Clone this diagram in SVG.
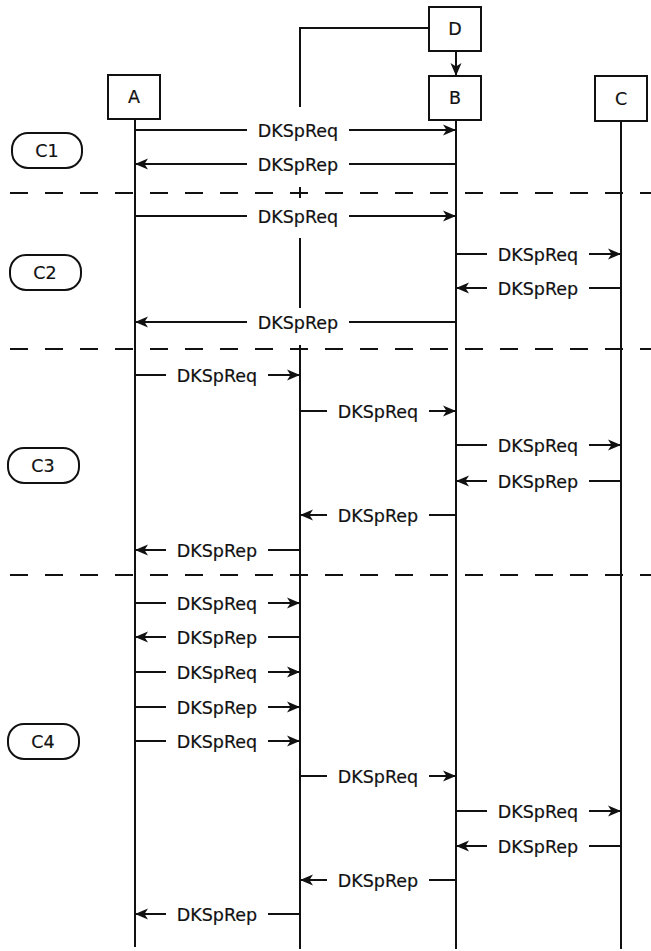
<svg xmlns="http://www.w3.org/2000/svg" width="651" height="951" viewBox="0 0 651 951">
<style>
.box{fill:#fff;stroke:#111;stroke-width:2}
.lbl{fill:#fff;stroke:#111;stroke-width:2}
.ln{stroke:#111;stroke-width:2;fill:none}
.dash{stroke:#111;stroke-width:2;stroke-dasharray:18 17;fill:none}
.t{font-family:"DejaVu Sans",Verdana,sans-serif;font-size:17.5px;fill:#111;text-anchor:middle;stroke:#111;stroke-width:0.2}
</style>
<defs>
<marker id="ah" markerUnits="userSpaceOnUse" markerWidth="14" markerHeight="14" viewBox="0 0 14 14" refX="13" refY="7" orient="auto">
<path d="M0,1.5 L13,7 L0,12.5 L3.5,7 z" fill="#111"/>
</marker>
</defs>
<rect width="651" height="951" fill="#fff"/>
<g id="dividers">
<line class="dash" x1="10" y1="193" x2="651" y2="193"/>
<line class="dash" x1="10" y1="349" x2="651" y2="349"/>
<line class="dash" x1="10" y1="575" x2="651" y2="575"/>
</g>
<g id="lifelines">
<line class="ln" x1="135" y1="119" x2="135" y2="947"/>
<line class="ln" x1="456" y1="120" x2="456" y2="949"/>
<line class="ln" x1="621" y1="121" x2="621" y2="949"/>
<path class="ln" d="M429,28 H300 V107"/>
<line class="ln" x1="300" y1="187" x2="300" y2="198"/>
<line class="ln" x1="300" y1="238" x2="300" y2="308"/>
<line class="ln" x1="300" y1="345" x2="300" y2="949"/>
</g>
<g id="node-D"><rect class="box" x="429" y="7" width="52" height="44"/><text class="t" x="455" y="35">D</text></g>
<g id="node-A"><rect class="box" x="108" y="75" width="52" height="44"/><text class="t" x="134" y="103">A</text></g>
<g id="node-B"><rect class="box" x="429" y="76" width="52" height="44"/><text class="t" x="455" y="104">B</text></g>
<g id="node-C"><rect class="box" x="595" y="76" width="52" height="45"/><text class="t" x="621" y="105">C</text></g>
<g id="label-C1"><rect class="lbl" x="12" y="133" width="70" height="35" rx="16"/><text class="t" x="47" y="157">C1</text></g>
<g id="label-C2"><rect class="lbl" x="10" y="255" width="71" height="35" rx="16"/><text class="t" x="45" y="279">C2</text></g>
<g id="label-C3"><rect class="lbl" x="8" y="448" width="71" height="35" rx="16"/><text class="t" x="43" y="472">C3</text></g>
<g id="label-C4"><rect class="lbl" x="8" y="724" width="71" height="35" rx="16"/><text class="t" x="43" y="748">C4</text></g>
<g id="connectors">
<line class="ln" x1="456" y1="51" x2="456" y2="76" marker-end="url(#ah)"/>
<line class="ln" x1="135" y1="130" x2="247" y2="130"/><line class="ln" x1="349" y1="130" x2="456" y2="130" marker-end="url(#ah)"/>
<line class="ln" x1="456" y1="164" x2="349" y2="164"/><line class="ln" x1="247" y1="164" x2="135" y2="164" marker-end="url(#ah)"/>
<line class="ln" x1="135" y1="216" x2="247" y2="216"/><line class="ln" x1="349" y1="216" x2="456" y2="216" marker-end="url(#ah)"/>
<line class="ln" x1="456" y1="254" x2="487" y2="254"/><line class="ln" x1="589" y1="254" x2="621" y2="254" marker-end="url(#ah)"/>
<line class="ln" x1="621" y1="288" x2="589" y2="288"/><line class="ln" x1="487" y1="288" x2="456" y2="288" marker-end="url(#ah)"/>
<line class="ln" x1="456" y1="322" x2="349" y2="322"/><line class="ln" x1="247" y1="322" x2="135" y2="322" marker-end="url(#ah)"/>
<line class="ln" x1="135" y1="375" x2="166" y2="375"/><line class="ln" x1="268" y1="375" x2="300" y2="375" marker-end="url(#ah)"/>
<line class="ln" x1="300" y1="411" x2="327" y2="411"/><line class="ln" x1="429" y1="411" x2="456" y2="411" marker-end="url(#ah)"/>
<line class="ln" x1="456" y1="445" x2="487" y2="445"/><line class="ln" x1="589" y1="445" x2="621" y2="445" marker-end="url(#ah)"/>
<line class="ln" x1="621" y1="481" x2="589" y2="481"/><line class="ln" x1="487" y1="481" x2="456" y2="481" marker-end="url(#ah)"/>
<line class="ln" x1="456" y1="515" x2="429" y2="515"/><line class="ln" x1="327" y1="515" x2="300" y2="515" marker-end="url(#ah)"/>
<line class="ln" x1="300" y1="550" x2="268" y2="550"/><line class="ln" x1="166" y1="550" x2="135" y2="550" marker-end="url(#ah)"/>
<line class="ln" x1="135" y1="603" x2="166" y2="603"/><line class="ln" x1="268" y1="603" x2="300" y2="603" marker-end="url(#ah)"/>
<line class="ln" x1="300" y1="637" x2="268" y2="637"/><line class="ln" x1="166" y1="637" x2="135" y2="637" marker-end="url(#ah)"/>
<line class="ln" x1="135" y1="672" x2="166" y2="672"/><line class="ln" x1="268" y1="672" x2="300" y2="672" marker-end="url(#ah)"/>
<line class="ln" x1="135" y1="707" x2="166" y2="707"/><line class="ln" x1="268" y1="707" x2="300" y2="707" marker-end="url(#ah)"/>
<line class="ln" x1="135" y1="741" x2="166" y2="741"/><line class="ln" x1="268" y1="741" x2="300" y2="741" marker-end="url(#ah)"/>
<line class="ln" x1="300" y1="776" x2="327" y2="776"/><line class="ln" x1="429" y1="776" x2="456" y2="776" marker-end="url(#ah)"/>
<line class="ln" x1="456" y1="811" x2="487" y2="811"/><line class="ln" x1="589" y1="811" x2="621" y2="811" marker-end="url(#ah)"/>
<line class="ln" x1="621" y1="846" x2="589" y2="846"/><line class="ln" x1="487" y1="846" x2="456" y2="846" marker-end="url(#ah)"/>
<line class="ln" x1="456" y1="880" x2="429" y2="880"/><line class="ln" x1="327" y1="880" x2="300" y2="880" marker-end="url(#ah)"/>
<line class="ln" x1="300" y1="914" x2="268" y2="914"/><line class="ln" x1="166" y1="914" x2="135" y2="914" marker-end="url(#ah)"/>
</g>
<g id="message-labels">
<text class="t" x="298" y="137">DKSpReq</text>
<text class="t" x="298" y="171">DKSpRep</text>
<text class="t" x="298" y="223">DKSpReq</text>
<text class="t" x="538" y="261">DKSpReq</text>
<text class="t" x="538" y="295">DKSpRep</text>
<text class="t" x="298" y="329">DKSpRep</text>
<text class="t" x="217" y="382">DKSpReq</text>
<text class="t" x="378" y="418">DKSpReq</text>
<text class="t" x="538" y="452">DKSpReq</text>
<text class="t" x="538" y="488">DKSpRep</text>
<text class="t" x="378" y="522">DKSpRep</text>
<text class="t" x="217" y="557">DKSpRep</text>
<text class="t" x="217" y="610">DKSpReq</text>
<text class="t" x="217" y="644">DKSpRep</text>
<text class="t" x="217" y="679">DKSpReq</text>
<text class="t" x="217" y="714">DKSpRep</text>
<text class="t" x="217" y="748">DKSpReq</text>
<text class="t" x="378" y="783">DKSpReq</text>
<text class="t" x="538" y="818">DKSpReq</text>
<text class="t" x="538" y="853">DKSpRep</text>
<text class="t" x="378" y="887">DKSpRep</text>
<text class="t" x="217" y="921">DKSpRep</text>
</g>
</svg>
